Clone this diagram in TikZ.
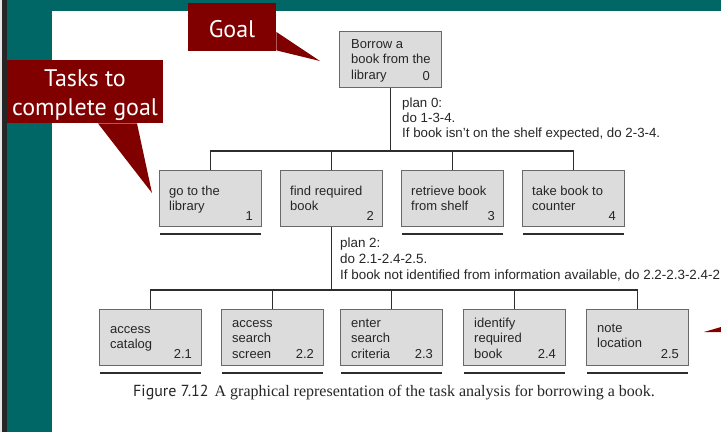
\documentclass[tikz,border=0pt]{standalone}
\usepackage{fontspec}
\setmainfont{Liberation Sans}
\newfontfamily\capserif{Liberation Serif}
\newfontfamily\callfont{PT Sans}
\usetikzlibrary{calc}
\definecolor{slideteal}{RGB}{0,102,102}
\definecolor{callred}{RGB}{128,0,0}
\definecolor{boxfill}{RGB}{220,220,220}
\definecolor{boxline}{RGB}{105,105,105}
\definecolor{linec}{RGB}{45,45,45}
\begin{document}
\begin{tikzpicture}[x=1pt,y=-1pt,
  task/.style={draw=boxline, line width=1.1pt, fill=boxfill, minimum width=102pt, minimum height=56pt, inner sep=0pt, anchor=north west},
  tasktext/.style={anchor=base west, inner sep=0pt, font=\fontsize{13}{15.5}\selectfont, text=black!85},
  tasknum/.style={anchor=base east, inner sep=0pt, font=\fontsize{13}{15.5}\selectfont, text=black!85},
  plantext/.style={anchor=base west, inner sep=0pt, text=black!85},
  conn/.style={draw=linec, line width=1.3pt},
  underl/.style={draw=linec, line width=2.2pt},
  callbox/.style={fill=callred, inner sep=0pt, anchor=north west},
  calltext/.style={anchor=base, inner sep=0pt, text=white, font=\callfont\fontsize{24}{29}\selectfont}
]
\useasboundingbox (0,0) rectangle (721,432);
\begin{scope}
\clip (0,0) rectangle (721,432);
% slide background
\fill[slideteal] (0,0) rectangle (721,432);
\fill[black!85] (2,0) rectangle (7,432);
\fill[black!10] (0,0) rectangle (2,432);
\fill[white] (52,11) rectangle (721,432);

% top task
\node[task] (b0) at (339,31) {};
\node[tasktext] (b0t) at ($(b0.north west)+(12,17)$) {\begin{tabular}[t]{@{}l@{}}Borrow a\\book from the\\library\end{tabular}};
\node[tasknum] (b0n) at ($(b0.south east)+(-12,-8)$) {0};

% row 1
\node[task] (b1) at (159,170) {};
\node[task] (b2) at (280,170) {};
\node[task] (b3) at (401,170) {};
\node[task] (b4) at (522,170) {};
\node[tasktext] (b1t) at ($(b1.north west)+(10,25)$) {\begin{tabular}[t]{@{}l@{}}go to the\\library\end{tabular}};
\node[tasktext] (b2t) at ($(b2.north west)+(10,25)$) {\begin{tabular}[t]{@{}l@{}}find required\\book\end{tabular}};
\node[tasktext] (b3t) at ($(b3.north west)+(10,25)$) {\begin{tabular}[t]{@{}l@{}}retrieve book\\from shelf\end{tabular}};
\node[tasktext] (b4t) at ($(b4.north west)+(10,25)$) {\begin{tabular}[t]{@{}l@{}}take book to\\counter\end{tabular}};
\node[tasknum] (b1n) at ($(b1.south east)+(-9,-7)$) {1};
\node[tasknum] (b2n) at ($(b2.south east)+(-9,-7)$) {2};
\node[tasknum] (b3n) at ($(b3.south east)+(-9,-7)$) {3};
\node[tasknum] (b4n) at ($(b4.south east)+(-9,-7)$) {4};
\foreach \b in {b1,b3,b4}{\draw[underl] ($(\b.south west)+(1,7)$) -- ($(\b.south east)+(-1,7)$);}

% row 2
\node[task] (c1) at (99,309) {};
\node[task] (c2) at (221,309) {};
\node[task] (c3) at (340,309) {};
\node[task] (c4) at (463,309) {};
\node[task] (c5) at (586,309) {};
\node[tasktext] (c1t) at ($(c1.north west)+(11,24)$) {\begin{tabular}[t]{@{}l@{}}access\\catalog\end{tabular}};
\node[tasktext] (c2t) at ($(c2.north west)+(11,18)$) {\begin{tabular}[t]{@{}l@{}}access\\search\\screen\end{tabular}};
\node[tasktext] (c3t) at ($(c3.north west)+(11,18)$) {\begin{tabular}[t]{@{}l@{}}enter\\search\\criteria\end{tabular}};
\node[tasktext] (c4t) at ($(c4.north west)+(11,18)$) {\begin{tabular}[t]{@{}l@{}}identify\\required\\book\end{tabular}};
\node[tasktext] (c5t) at ($(c5.north west)+(11,23)$) {\begin{tabular}[t]{@{}l@{}}note\\location\end{tabular}};
\node[tasknum] (c1n) at ($(c1.south east)+(-10,-8)$) {2.1};
\node[tasknum] (c2n) at ($(c2.south east)+(-10,-8)$) {2.2};
\node[tasknum] (c3n) at ($(c3.south east)+(-10,-8)$) {2.3};
\node[tasknum] (c4n) at ($(c4.south east)+(-10,-8)$) {2.4};
\node[tasknum] (c5n) at ($(c5.south east)+(-10,-8)$) {2.5};
\foreach \b in {c1,c2,c3,c4,c5}{\draw[underl] ($(\b.south west)+(1,7)$) -- ($(\b.south east)+(-1,7)$);}

% connectors
\coordinate (j0) at ($(b0.south)+(0,63)$);
\coordinate (j2) at ($(b2.south)+(0,63)$);
\draw[conn] (b0.south) -- (j0);
\draw[conn] (b1.north) |- (j0) -| (b4.north);
\draw[conn] (b2.north) -- (b2.north |- j0);
\draw[conn] (b3.north) -- (b3.north |- j0);
\draw[conn] (b2.south) -- (j2);
\draw[conn] (c1.north) |- (j2) -| (c5.north);
\draw[conn] (c2.north) -- (c2.north |- j2);
\draw[conn] (c3.north) -- (c3.north |- j2);
\draw[conn] (c4.north) -- (c4.north |- j2);

% plans
\node[plantext, font=\fontsize{13.3}{15}\selectfont] (p0) at (402,107) {\begin{tabular}[t]{@{}l@{}}plan 0:\\do 1-3-4.\\If book isn't on the shelf expected, do 2-3-4.\end{tabular}};
\node[plantext, font=\fontsize{13.4}{16}\selectfont] (p2) at (340,247) {\begin{tabular}[t]{@{}l@{}}plan 2:\\do 2.1-2.4-2.5.\\If book not identified from information available, do 2.2-2.3-2.4-2.5.\end{tabular}};

% caption
\node[anchor=base west, inner sep=0pt, font=\capserif\fontsize{16}{19}\selectfont, text=black!85] (cap) at (133,396) {{\callfont Figure 7.12}\hspace{6pt}A graphical representation of the task analysis for borrowing a book.};

% callouts
\node[callbox, minimum width=88pt, minimum height=48pt] (goal) at (188,3) {};
\fill[callred] ($(goal.north east)+(0,29)$) -- (320,61) -- ($(goal.south east)+(0,-1)$) -- cycle;
\node[calltext] (goalt) at (232,37) {Goal};
\node[callbox, minimum width=156pt, minimum height=63pt] (tasks) at (7,60) {};
\fill[callred] ($(tasks.south west)+(91,0)$) -- (152,193) -- ($(tasks.south west)+(130,0)$) -- cycle;
\node[calltext] (taskst) at (85,86) {\begin{tabular}[t]{@{}c@{}}Tasks to\\complete goal\end{tabular}};
\fill[callred] (704,332) -- (721,327) -- (721,332) -- cycle;
\end{scope}
\end{tikzpicture}
\end{document}
